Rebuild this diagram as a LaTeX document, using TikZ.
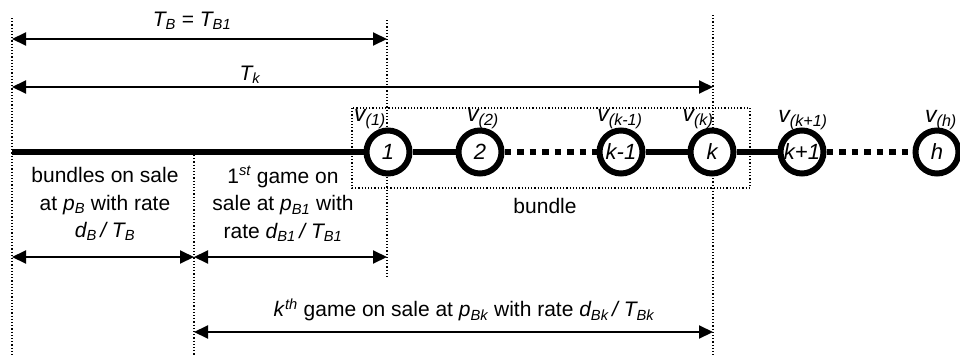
\documentclass[tikz,border=0pt]{standalone}
\usepackage{fontspec}
\setmainfont{Liberation Sans}
\usetikzlibrary{arrows.meta}
\newcommand\sbs[1]{\textsubscript{#1}}
\tikzset{
 lbl/.style={font=\fontsize{21}{27.5}\selectfont, inner sep=0pt},
 vlbl/.style={font=\fontsize{23}{23}\selectfont, inner sep=0pt},
 vline/.style={dotted, line width=1.2pt},
 dimarrow/.style={{Triangle[length=14pt,width=13pt]}-{Triangle[length=14pt,width=13pt]}, line width=2pt},
 gnode/.style={circle, draw, line width=6pt, fill=white, minimum size=43pt, inner sep=0pt, font=\fontsize{22}{22}\selectfont\itshape},
 solidlink/.style={line width=6.5pt},
 dotlink/.style={line width=6.5pt, dash pattern=on 6.5pt off 6pt},
 boxline/.style={dotted, line width=1.2pt},
}
\begin{document}
\begin{tikzpicture}[x=1pt,y=-1pt]
\useasboundingbox (0,0) rectangle (960,356);
% vertical guide coordinates
\coordinate (l0t) at (12,18);   \coordinate (l0b) at (12,356);
\coordinate (l1t) at (194,155); \coordinate (l1b) at (194,356);
\coordinate (l2t) at (387,20);  \coordinate (l2b) at (387,278);
\coordinate (l3t) at (713,15);  \coordinate (l3b) at (713,356);
\draw[vline] (l0t) -- (l0b);
\draw[vline] (l1t) -- (l1b);
\draw[vline] (l2t) -- (l2b);
\draw[vline] (l3t) -- (l3b);
% bundle box
\draw[boxline] (352,108) rectangle (750,188);
\node[lbl] (bundle) at (545,206) {bundle};
% dimension arrows
\coordinate (a1l) at (12,39);  \coordinate (a1r) at (387,39);
\coordinate (a2l) at (12,87);  \coordinate (a2r) at (713,87);
\coordinate (a3l) at (12,257); \coordinate (a3m) at (194,257); \coordinate (a3r) at (387,257);
\coordinate (a4l) at (194,332); \coordinate (a4r) at (713,332);
\draw[dimarrow] (a1l) -- (a1r);
\draw[dimarrow] (a2l) -- (a2r);
\draw[dimarrow] (a3l) -- (a3m);
\draw[dimarrow] (a3m) -- (a3r);
\draw[dimarrow] (a4l) -- (a4r);
\node[lbl] (tb) at (192,21) {\textit{T\sbs{B}} = \textit{T\sbs{B1}}};
\node[lbl] (tk) at (250,75) {\textit{T\sbs{k}}};
\node[lbl, align=center] (blk1) at (105,204) {bundles on sale\\at \textit{p\sbs{B}} with rate\\\textit{d\sbs{B}\,/ T\sbs{B}}};
\node[lbl, align=center] (blk2) at (283,204) {1\textsuperscript{\itshape st} game on\\sale at \textit{p\sbs{B1}} with\\rate \textit{d\sbs{B1}\,/ T\sbs{B1}}};
\node[lbl] (blk3) at (464,310) {\textit{k}\textsuperscript{\itshape th} game on sale at \textit{p\sbs{Bk}} with rate \textit{d\sbs{Bk}\,/ T\sbs{Bk}}};
% timeline
\coordinate (start) at (12,152);
\node[gnode] (n1) at (388,152) {1};
\node[gnode] (n2) at (480,152) {2};
\node[gnode] (nk1) at (621,152) {k-1};
\node[gnode] (nk) at (712,152) {k};
\node[gnode] (nkp) at (802,152) {k+1};
\node[gnode] (nh) at (937,152) {h};
\draw[solidlink] (start) -- (n1);
\draw[solidlink] (n1) -- (n2);
\draw[dotlink] (n2) -- (nk1);
\draw[solidlink] (nk1) -- (nk);
\draw[solidlink] (nk) -- (nkp);
\draw[dotlink] (nkp) -- (nh);
% v labels
\node[vlbl] (v1) at (370,119) {\textit{v\sbs{(1)}}};
\node[vlbl] (v2) at (483,119) {\textit{v\sbs{(2)}}};
\node[vlbl] (vk1) at (620,119) {\textit{v\sbs{(k-1)}}};
\node[vlbl] (vk) at (698,119) {\textit{v\sbs{(k)}}};
\node[vlbl] (vkp) at (803,120) {\textit{v\sbs{(k+1)}}};
\node[vlbl] (vh) at (941,120) {\textit{v\sbs{(h)}}};
\end{tikzpicture}
\end{document}
